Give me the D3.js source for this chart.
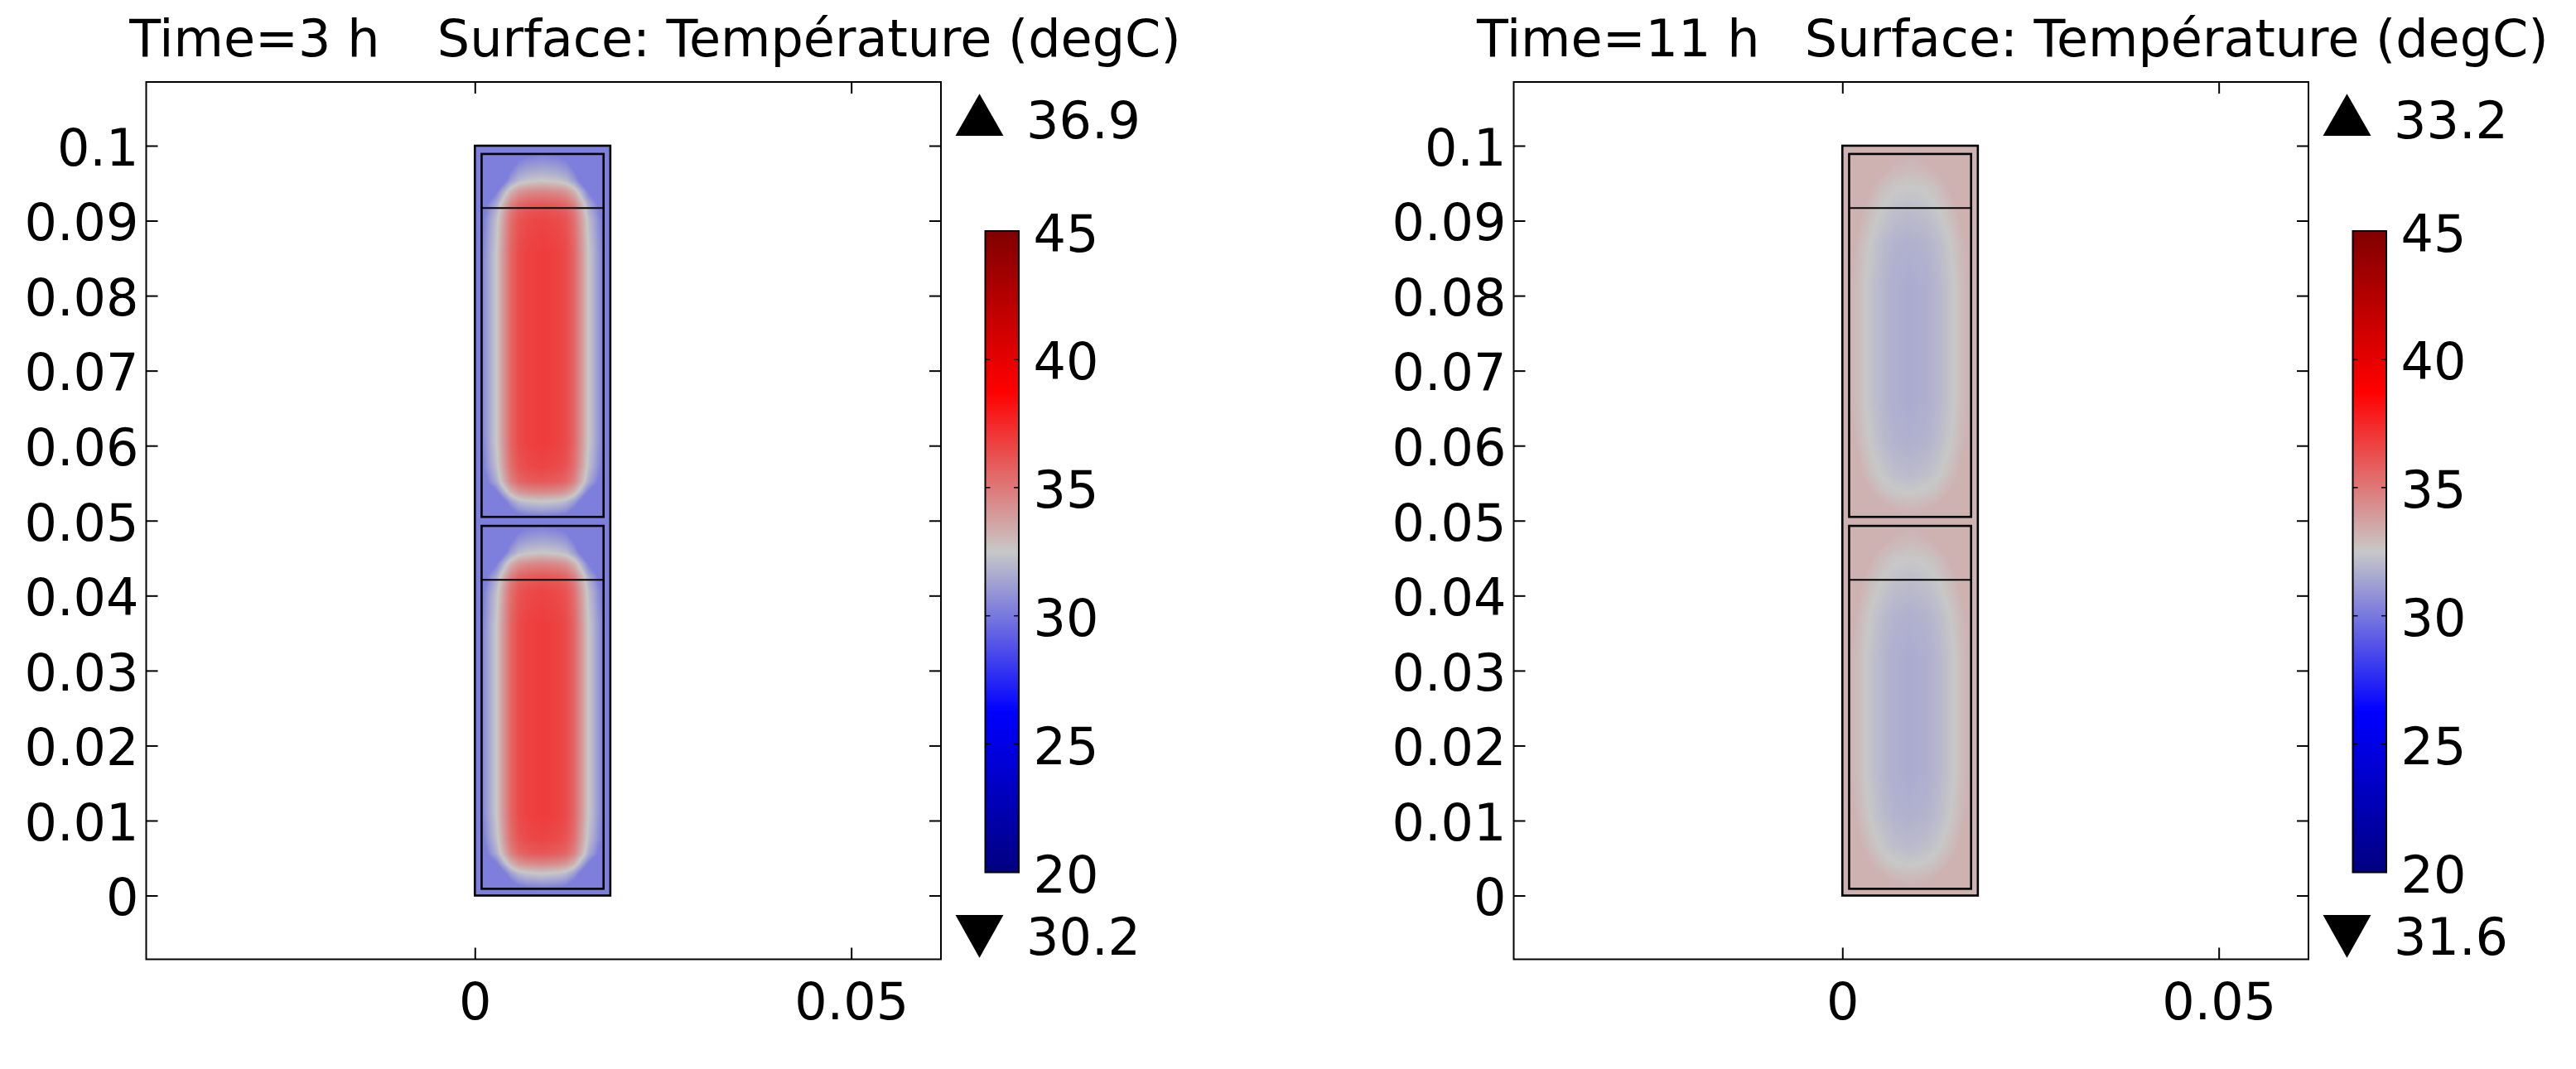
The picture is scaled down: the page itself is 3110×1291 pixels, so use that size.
<!DOCTYPE html>
<html><head><meta charset="utf-8">
<script src="https://cdn.jsdelivr.net/npm/d3@7"></script>
<style>html,body{margin:0;padding:0;background:#fff;} svg{display:block;}</style>
</head><body>
<svg id="chart" width="3110" height="1291"></svg>
<script>
// ---------------- data ----------------
const panelTimes = ["3 h", "11 h"];
const surfaceLabel = "Surface: Température (degC)";
const maxValues = [36.9, 33.2];
const minValues = [30.2, 31.6];
const xTickValues = [0, 0.05];
const xTickLabels = ["0", "0.05"];
const yTickValues = [0, 0.01, 0.02, 0.03, 0.04, 0.05, 0.06, 0.07, 0.08, 0.09, 0.1];
const yTickLabels = ["0", "0.01", "0.02", "0.03", "0.04", "0.05", "0.06", "0.07", "0.08", "0.09", "0.1"];
const cbTickValues = [20, 25, 30, 35, 40, 45];
const cbTickLabels = ["20", "25", "30", "35", "40", "45"];
const cmapValues = [20, 26.25, 32.5, 38.75, 45];
const cmapColors = ["#000080", "#0000ff", "#c8c8c8", "#ff0000", "#800000"];
// geometry (m)
const outerX = [0, 0.018];
const outerY = [0, 0.1];
const innerX = [0.0009, 0.0171];
const innerYLower = [0.0009, 0.0493];
const innerYUpper = [0.0505, 0.0989];
const dividerY = [0.0421, 0.0917];
// temperatures: wall (rim) and core
const wallTemps = [30.2, 33.2];
const coreTemps = [36.9, 31.6];
// profile across width (fraction of inner width) at mid-height
const profXPos = [
  [0, .041, .081, .122, .176, .237, .305, .373, .5, .627, .695, .763, .824, .878, .919, .959, 1],
  [0, .068, .136, .204, .285, .373, .5, .627, .715, .796, .864, .932, 1]
];
const profXTemp = [
  [30.2, 31.0, 31.8, 32.5, 34.0, 35.5, 36.4, 36.7, 36.9, 36.7, 36.4, 35.5, 34.0, 32.5, 31.8, 31.0, 30.2],
  [33.2, 32.9, 32.5, 32.2, 31.9, 31.7, 31.6, 31.7, 31.9, 32.2, 32.5, 32.9, 33.2]
];
// profile along height (fraction of inner height, from bottom) at centre line
const profYPos = [
  [0, .018, .041, .068, .096, .137, .205, .726, .818, .861, .897, .927, .954, .977, 1],
  [0, .032, .064, .114, .205, .319, .635, .749, .840, .909, .954, 1]
];
const profYTemp = [
  [30.2, 31.3, 32.5, 34.5, 36.0, 36.6, 36.9, 36.9, 36.6, 36.0, 34.5, 32.5, 31.6, 30.9, 30.2],
  [33.2, 32.9, 32.5, 32.1, 31.75, 31.6, 31.6, 31.75, 32.1, 32.5, 32.9, 33.2]
];

// ---------------- layout ----------------
const FONT = "DejaVu Sans";
const FS = 62;
const panelOffset = 1651;
const xDomain = [-0.04366, 0.06192];
const yDomain = [-0.0085, 0.1085];
const frame = {left: 176.5, right: 1136, top: 99, bottom: 1158.5};
const cb = {left: 1189.5, width: 40.5, top: 279, bottom: 1053.5};
const titleTimeEnd = [458.5, 2124.5];
const titleSurfEnd = 1425.6;

const svg = d3.select("#chart");
svg.append("rect").attr("width", 3110).attr("height", 1291).attr("fill", "#fff");

const color = d3.scaleLinear().domain(cmapValues).range(cmapColors)
  .interpolate(d3.interpolateRgb).clamp(true);

function fieldImage(p, w, h) {
  const fxS = d3.scaleLinear().domain(profXPos[p]).range(profXTemp[p]);
  const fyS = d3.scaleLinear().domain(profYPos[p]).range(profYTemp[p]);
  const Tw = wallTemps[p], Tc = coreTemps[p];
  const lo = Math.min(Tw, Tc), hi = Math.max(Tw, Tc);
  const cv = document.createElement("canvas");
  cv.width = w; cv.height = h;
  const ctx = cv.getContext("2d");
  const img = ctx.createImageData(w, h);
  for (let j = 0; j < h; j++) {
    const ty = fyS(1 - (j + 0.5) / h);
    for (let i = 0; i < w; i++) {
      const tx = fxS((i + 0.5) / w);
      // deficits from the core value add up towards the corners
      let T = tx + ty - Tc;
      T = Math.max(lo, Math.min(hi, T));
      const c = d3.rgb(color(T));
      const k = (j * w + i) * 4;
      img.data[k] = c.r; img.data[k + 1] = c.g; img.data[k + 2] = c.b; img.data[k + 3] = 255;
    }
  }
  ctx.putImageData(img, 0, 0);
  return cv.toDataURL();
}

// gradient for colorbar
const defs = svg.append("defs");
const grad = defs.append("linearGradient").attr("id", "cbgrad")
  .attr("x1", 0).attr("y1", 1).attr("x2", 0).attr("y2", 0);
grad.selectAll("stop").data(cmapValues).join("stop")
  .attr("offset", d => (d - cmapValues[0]) / (cmapValues[cmapValues.length - 1] - cmapValues[0]))
  .attr("stop-color", (d, i) => cmapColors[i]);

function styleText(sel) {
  sel.attr("font-family", FONT).attr("font-size", FS).attr("fill", "#000");
}

panelTimes.forEach((t, p) => {
  const dx = p * panelOffset;
  const g = svg.append("g");
  const xs = d3.scaleLinear().domain(xDomain).range([frame.left + dx, frame.right + dx]);
  const ys = d3.scaleLinear().domain(yDomain).range([frame.bottom, frame.top]);

  // title
  g.append("text")
    .attr("x", titleTimeEnd[p]).attr("y", 68)
    .attr("text-anchor", "end")
    .text("Time=" + t)
    .call(styleText);
  g.append("text")
    .attr("x", titleSurfEnd + dx).attr("y", 68)
    .attr("text-anchor", "end")
    .text(surfaceLabel)
    .call(styleText);

  // geometry: outer domain (rim)
  g.append("rect")
    .attr("x", xs(outerX[0])).attr("y", ys(outerY[1]))
    .attr("width", xs(outerX[1]) - xs(outerX[0]))
    .attr("height", ys(outerY[0]) - ys(outerY[1]))
    .attr("fill", color(wallTemps[p]));

  // fields in inner cells
  [innerYLower, innerYUpper].forEach(iy => {
    const x0 = xs(innerX[0]), y0 = ys(iy[1]);
    const w = Math.round(xs(innerX[1]) - x0), h = Math.round(ys(iy[0]) - y0);
    g.append("image")
      .attr("x", x0).attr("y", y0).attr("width", w).attr("height", h)
      .attr("preserveAspectRatio", "none")
      .attr("href", fieldImage(p, w, h));
  });
  // inner cell borders
  [innerYLower, innerYUpper].forEach(iy => {
    g.append("rect")
      .attr("x", xs(innerX[0])).attr("y", ys(iy[1]))
      .attr("width", xs(innerX[1]) - xs(innerX[0]))
      .attr("height", ys(iy[0]) - ys(iy[1]))
      .attr("fill", "none").attr("stroke", "#000").attr("stroke-width", 2.6);
  });
  // divider lines
  g.selectAll("line.div").data(dividerY).join("line").attr("class", "div")
    .attr("x1", xs(innerX[0])).attr("x2", xs(innerX[1]))
    .attr("y1", d => ys(d)).attr("y2", d => ys(d))
    .attr("stroke", "#000").attr("stroke-width", 2);
  // outer border
  g.append("rect")
    .attr("x", xs(outerX[0])).attr("y", ys(outerY[1]))
    .attr("width", xs(outerX[1]) - xs(outerX[0]))
    .attr("height", ys(outerY[0]) - ys(outerY[1]))
    .attr("fill", "none").attr("stroke", "#000").attr("stroke-width", 2.6);

  // frame
  g.append("rect")
    .attr("x", frame.left + dx).attr("y", frame.top)
    .attr("width", frame.right - frame.left).attr("height", frame.bottom - frame.top)
    .attr("fill", "none").attr("stroke", "#000").attr("stroke-width", 2);

  function finishAxis(sel) {
    sel.select(".domain").remove();
    sel.selectAll(".tick line").attr("stroke", "#000").attr("stroke-width", 2);
    sel.selectAll(".tick text").call(styleText);
    sel.attr("font-size", FS).attr("font-family", FONT);
  }
  g.append("g").attr("transform", `translate(${frame.left + dx},0)`)
    .call(d3.axisLeft(ys).tickValues(yTickValues).tickSize(-14).tickPadding(9)
      .tickFormat((d, i) => yTickLabels[i]))
    .call(finishAxis)
    .selectAll(".tick text").attr("dy", "0.375em");
  g.append("g").attr("transform", `translate(${frame.right + dx},0)`)
    .call(d3.axisRight(ys).tickValues(yTickValues).tickSize(-14).tickFormat(""))
    .call(finishAxis);
  g.append("g").attr("transform", `translate(0,${frame.bottom})`)
    .call(d3.axisBottom(xs).tickValues(xTickValues).tickSize(-14).tickPadding(28.5)
      .tickFormat((d, i) => xTickLabels[i]))
    .call(finishAxis);
  g.append("g").attr("transform", `translate(0,${frame.top})`)
    .call(d3.axisTop(xs).tickValues(xTickValues).tickSize(-14).tickFormat(""))
    .call(finishAxis);

  // colorbar
  const cs = d3.scaleLinear().domain([cbTickValues[0], cbTickValues[cbTickValues.length - 1]])
    .range([cb.bottom, cb.top]);
  const cl = cb.left + dx;
  g.append("rect").attr("x", cl).attr("y", cs(45)).attr("width", cb.width)
    .attr("height", cs(20) - cs(45)).attr("fill", "url(#cbgrad)")
    .attr("stroke", "#000").attr("stroke-width", 2);
  const inner = cbTickValues.slice(1, -1);
  g.selectAll("line.cbl").data(inner).join("line").attr("class", "cbl")
    .attr("x1", cl).attr("x2", cl + 6).attr("y1", d => cs(d)).attr("y2", d => cs(d))
    .attr("stroke", "#000").attr("stroke-width", 1.5);
  g.selectAll("line.cbr").data(inner).join("line").attr("class", "cbr")
    .attr("x1", cl + cb.width - 6).attr("x2", cl + cb.width).attr("y1", d => cs(d)).attr("y2", d => cs(d))
    .attr("stroke", "#000").attr("stroke-width", 1.5);
  g.selectAll("text.cbt").data(cbTickValues).join("text").attr("class", "cbt")
    .attr("x", 1247.5 + dx).attr("y", d => cs(d) + 24.5)
    .text((d, i) => cbTickLabels[i]).call(styleText);

  // max / min markers
  const cx = 1182.5 + dx, hw = 29;
  g.append("path").attr("d", `M${cx - hw},164L${cx + hw},164L${cx},113.3Z`).attr("fill", "#000");
  g.append("path").attr("d", `M${cx - hw},1105L${cx + hw},1105L${cx},1156.7Z`).attr("fill", "#000");
  g.append("text").attr("x", 1239 + dx).attr("y", 167).text(maxValues[p].toFixed(1)).call(styleText);
  g.append("text").attr("x", 1239 + dx).attr("y", 1152.5).text(minValues[p].toFixed(1)).call(styleText);
});
</script>
</body></html>
